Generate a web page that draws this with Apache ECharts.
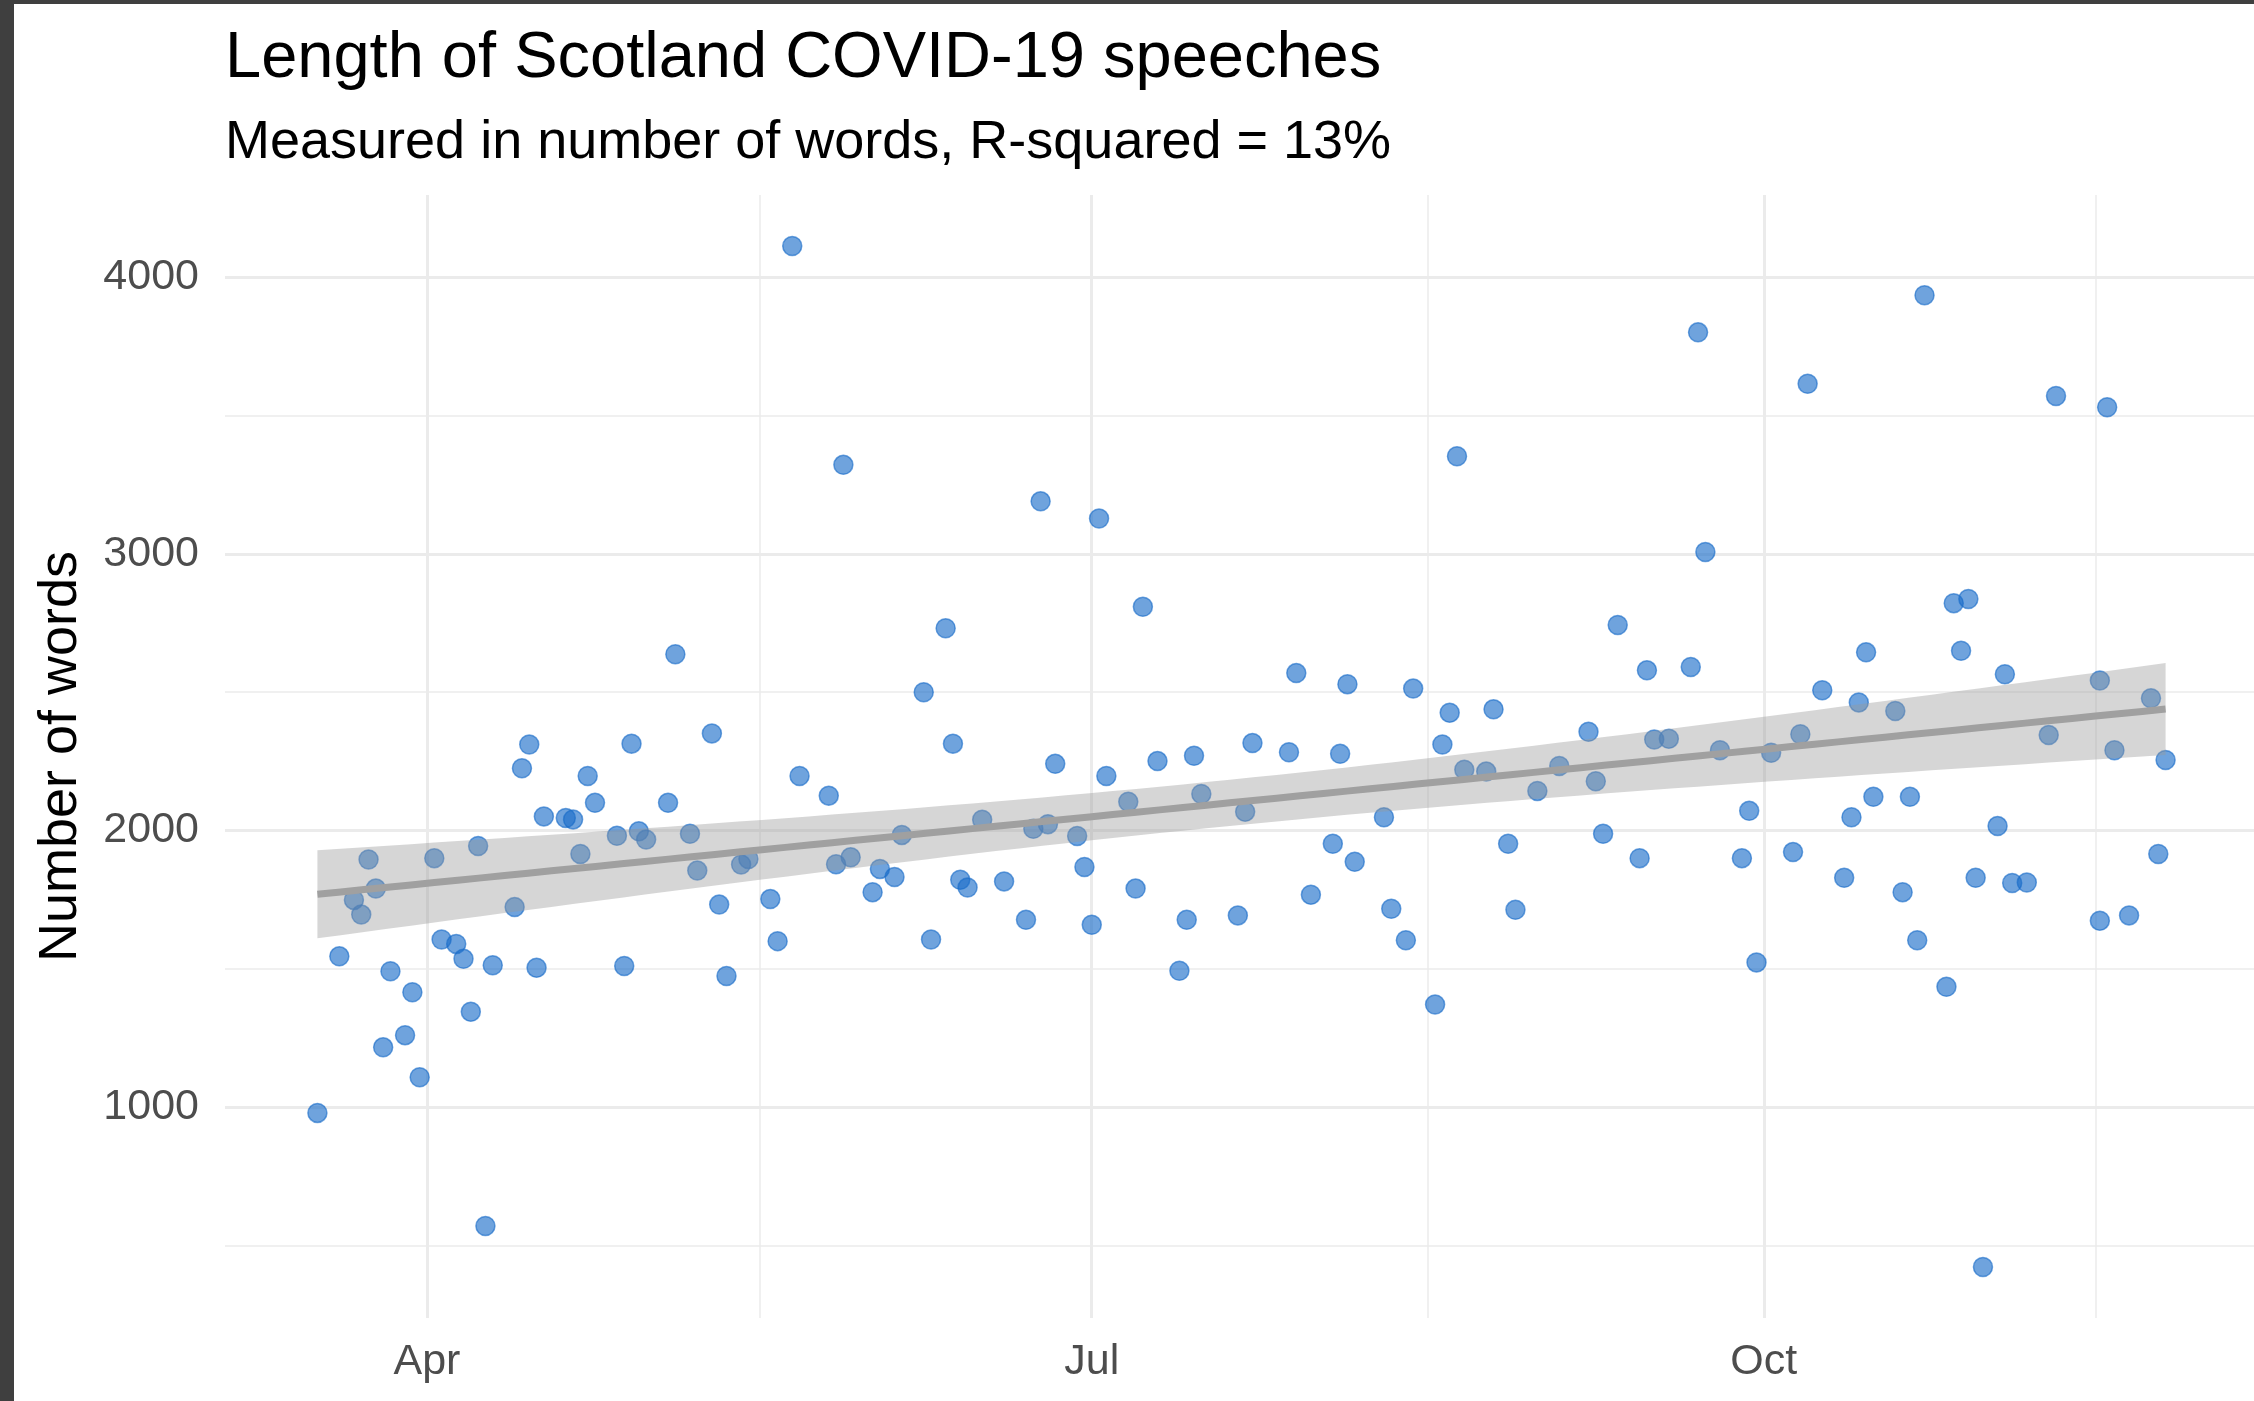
<!DOCTYPE html>
<html>
<head>
<meta charset="utf-8">
<title>Length of Scotland COVID-19 speeches</title>
<script src="https://cdn.jsdelivr.net/npm/echarts@6/dist/echarts.min.js"></script>
<style>
  html, body { margin: 0; padding: 0; width: 2254px; height: 1401px; overflow: hidden; background: #3f3f3f; }
  #chart { position: absolute; left: 14px; top: 4px; width: 2240px; height: 1397px; background: #ffffff; }
</style>
</head>
<body>
<div id="chart"></div>
<script>
// Daily COVID-19 briefings, 2020: date of each speech and its length in words
const speechDates = [
  '2020-03-17','2020-03-20','2020-03-22','2020-03-23','2020-03-24','2020-03-25','2020-03-26','2020-03-27',
  '2020-03-29','2020-03-30','2020-03-31','2020-04-02','2020-04-03','2020-04-05','2020-04-06','2020-04-07',
  '2020-04-08','2020-04-09','2020-04-10','2020-04-13','2020-04-14','2020-04-15','2020-04-16','2020-04-17',
  '2020-04-20','2020-04-21','2020-04-22','2020-04-23','2020-04-24','2020-04-27','2020-04-28','2020-04-29',
  '2020-04-30','2020-05-01','2020-05-04','2020-05-05','2020-05-07','2020-05-08','2020-05-10','2020-05-11',
  '2020-05-12','2020-05-14','2020-05-15','2020-05-18','2020-05-19','2020-05-21','2020-05-22','2020-05-26',
  '2020-05-27','2020-05-28','2020-05-29','2020-06-01','2020-06-02','2020-06-04','2020-06-05','2020-06-08',
  '2020-06-09','2020-06-11','2020-06-12','2020-06-13','2020-06-14','2020-06-16','2020-06-19','2020-06-22',
  '2020-06-23','2020-06-24','2020-06-25','2020-06-26','2020-06-29','2020-06-30','2020-07-01','2020-07-02',
  '2020-07-03','2020-07-06','2020-07-07','2020-07-08','2020-07-10','2020-07-13','2020-07-14','2020-07-15',
  '2020-07-16','2020-07-21','2020-07-22','2020-07-23','2020-07-28','2020-07-29','2020-07-31','2020-08-03',
  '2020-08-04','2020-08-05','2020-08-06','2020-08-10','2020-08-11','2020-08-13','2020-08-14','2020-08-17',
  '2020-08-18','2020-08-19','2020-08-20','2020-08-21','2020-08-24','2020-08-25','2020-08-27','2020-08-28',
  '2020-08-31','2020-09-03','2020-09-07','2020-09-08','2020-09-09','2020-09-11','2020-09-14','2020-09-15',
  '2020-09-16','2020-09-18','2020-09-21','2020-09-22','2020-09-23','2020-09-25','2020-09-28','2020-09-29',
  '2020-09-30','2020-10-02','2020-10-05','2020-10-06','2020-10-07','2020-10-09','2020-10-12','2020-10-13',
  '2020-10-14','2020-10-15','2020-10-16','2020-10-19','2020-10-20','2020-10-21','2020-10-22','2020-10-23',
  '2020-10-26','2020-10-27','2020-10-28','2020-10-29','2020-10-30','2020-10-31','2020-11-02','2020-11-03',
  '2020-11-04','2020-11-06','2020-11-09','2020-11-10','2020-11-16','2020-11-16','2020-11-17','2020-11-18',
  '2020-11-20','2020-11-23','2020-11-24','2020-11-25'
];
const wordCounts = [
  979, 1545, 1749, 1696, 1895, 1790, 1216, 1491,
  1260, 1415, 1108, 1900, 1606, 1590, 1536, 1345,
  1944, 570, 1513, 1723, 2225, 2311, 1504, 2051,
  2045, 2040, 1915, 2197, 2100, 1981, 1510, 2314,
  1997, 1967, 2100, 2637, 1988, 1855, 2351, 1732,
  1474, 1877, 1897, 1752, 1600, 4113, 2197, 2126,
  1878, 3322, 1903, 1777, 1861, 1832, 1984, 2500,
  1606, 2731, 2314, 1822, 1794, 2039, 1816, 1677,
  2006, 3190, 2023, 2241, 1980, 1868, 1659, 3128,
  2197, 2104, 1790, 2809, 2251, 1493, 1677, 2270,
  2132, 1693, 2068, 2316, 2283, 2569, 1768, 1952,
  2277, 2529, 1887, 2048, 1717, 1603, 2513, 1371,
  2311, 2426, 3353, 2220, 2213, 2438, 1952, 1713,
  2143, 2233, 2357, 2178, 1988, 2743, 1900, 2579,
  2329, 2332, 2591, 3801, 3007, 2290, 1900, 2071,
  1523, 2281, 1922, 2348, 3615, 2507, 1829, 2048,
  2463, 2644, 2122, 2432, 1777, 2122, 1603, 3935,
  1435, 2822, 2650, 2837, 1829, 422, 2016, 2565,
  1810, 1812, 2345, 3571, 2542, 1674, 3530, 2290,
  1693, 2478, 1915, 2255
];

// Axis breaks and their labels
const xMajorBreaks = ['2020-04-01', '2020-07-01', '2020-10-01'];
const xBreakLabels = ['Apr', 'Jul', 'Oct'];
const yMajorBreaks = [1000, 2000, 3000, 4000];

const DAY = 86400000;
const FONT = "'Liberation Sans', Arial, Helvetica, sans-serif";

function parseDay(s) {
  const p = s.split('-').map(Number);
  return Date.UTC(p[0], p[1] - 1, p[2]);
}

const times = speechDates.map(parseDay);
const points = times.map((t, i) => [t, wordCounts[i]]);

// Axis limits: data range widened by 5% on each side
function expand(lo, hi) {
  const pad = (hi - lo) * 0.05;
  return [lo - pad, hi + pad];
}
const tMin = Math.min(...times), tMax = Math.max(...times);
const [xLo, xHi] = expand(tMin, tMax);
const [yLo, yHi] = expand(Math.min(...wordCounts), Math.max(...wordCounts));

// Minor breaks sit halfway between major breaks (extended by one step at each end)
function minorBreaks(major, lo, hi) {
  const step = major[1] - major[0];
  const ext = [major[0] - step, ...major, major[major.length - 1] + step];
  const out = [];
  for (let i = 0; i < ext.length - 1; i++) {
    const m = (ext[i] + ext[i + 1]) / 2;
    if (m >= lo && m <= hi) out.push(m);
  }
  return out;
}
const xMajorTs = xMajorBreaks.map(parseDay);
const xMinorTs = minorBreaks(xMajorTs, xLo, xHi);
const yMinorBreaks = minorBreaks(yMajorBreaks, yLo, yHi);

// Ordinary least squares fit with a 95% confidence band
const n = points.length;
const xs = times.map(t => (t - tMin) / DAY);
const ys = wordCounts;
const xbar = xs.reduce((a, b) => a + b, 0) / n;
const ybar = ys.reduce((a, b) => a + b, 0) / n;
let sxx = 0, sxy = 0;
for (let i = 0; i < n; i++) { sxx += (xs[i] - xbar) ** 2; sxy += (xs[i] - xbar) * (ys[i] - ybar); }
const slope = sxy / sxx;
const intercept = ybar - slope * xbar;
let sse = 0;
for (let i = 0; i < n; i++) sse += (ys[i] - intercept - slope * xs[i]) ** 2;
const sigma = Math.sqrt(sse / (n - 2));
const df = n - 2, z = 1.959964;
const tq = z + (z ** 3 + z) / (4 * df) + (5 * z ** 5 + 16 * z ** 3 + 3 * z) / (96 * df * df);

const fitLine = [], bandLower = [], bandUpper = [];
const STEPS = 80;
const xSpan = (tMax - tMin) / DAY;
for (let k = 0; k < STEPS; k++) {
  const x = xSpan * k / (STEPS - 1);
  const t = tMin + x * DAY;
  const yhat = intercept + slope * x;
  const half = tq * sigma * Math.sqrt(1 / n + (x - xbar) ** 2 / sxx);
  fitLine.push([t, yhat]);
  bandLower.push([t, yhat - half]);
  bandUpper.push([t, yhat + half]);
}

// Confidence band drawn as one polygon through the axis scales
function renderBand(params, api) {
  if (params.dataIndex !== 0) return null;
  const pts = bandUpper.map(p => api.coord(p))
    .concat(bandLower.slice().reverse().map(p => api.coord(p)));
  return {
    type: 'polygon',
    shape: { points: pts },
    style: { fill: 'rgba(153,153,153,0.4)', stroke: null },
    silent: true
  };
}

// Panel grid lines
const GRID_COLOR = '#ebebeb';
const gridLines = [
  ...yMajorBreaks.map(v => ({ yAxis: v, lineStyle: { width: 3 } })),
  ...yMinorBreaks.map(v => ({ yAxis: v, lineStyle: { width: 1.5 } })),
  ...xMajorTs.map(v => ({ xAxis: v, lineStyle: { width: 3 } })),
  ...xMinorTs.map(v => ({ xAxis: v, lineStyle: { width: 1.5 } }))
];

const chart = echarts.init(document.getElementById('chart'), null, { renderer: 'canvas' });
chart.setOption({
  animation: false,
  backgroundColor: '#ffffff',
  title: [
    {
      text: 'Length of Scotland COVID-19 speeches',
      left: 211, top: 23,
      padding: 0,
      textStyle: { fontFamily: FONT, fontSize: 65, fontWeight: 'normal', color: '#000000', lineHeight: 65 }
    },
    {
      text: 'Measured in number of words, R-squared = 13%',
      left: 211, top: 112,
      padding: 0,
      textStyle: { fontFamily: FONT, fontSize: 54, fontWeight: 'normal', color: '#000000', lineHeight: 54 }
    }
  ],
  grid: {
    left: 211, right: -4, top: 191, bottom: 83,
    containLabel: false,
    outerBoundsMode: 'none'
  },
  xAxis: {
    type: 'value',
    min: xLo, max: xHi,
    scale: true,
    axisLine: { show: false },
    axisTick: { show: false },
    splitLine: { show: false },
    axisLabel: {
      customValues: xMajorTs,
      hideOverlap: false,
      margin: 23,
      fontFamily: FONT, fontSize: 43, color: '#4d4d4d',
      formatter: v => {
        const i = xMajorTs.indexOf(v);
        return i >= 0 ? xBreakLabels[i] : '';
      }
    }
  },
  yAxis: {
    type: 'value',
    min: yLo, max: yHi,
    scale: true,
    name: 'Number of words',
    nameLocation: 'middle',
    nameRotate: 90,
    nameGap: 137,
    nameTextStyle: { fontFamily: FONT, fontSize: 54, color: '#000000' },
    axisLine: { show: false },
    axisTick: { show: false },
    splitLine: { show: false },
    axisLabel: {
      customValues: yMajorBreaks,
      margin: 26,
      fontFamily: FONT, fontSize: 43, color: '#4d4d4d',
      formatter: v => String(v)
    }
  },
  series: [
    {
      name: 'grid',
      type: 'line',
      data: [],
      silent: true,
      z: 0,
      markLine: {
        silent: true,
        symbol: ['none', 'none'],
        label: { show: false },
        emphasis: { disabled: true },
        animation: false,
        z: 0,
        lineStyle: { color: GRID_COLOR, type: 'solid', opacity: 1 },
        data: gridLines
      }
    },
    {
      name: 'speeches',
      type: 'scatter',
      data: points,
      symbol: 'circle',
      symbolSize: 19,
      z: 2,
      itemStyle: {
        color: 'rgba(24,108,200,0.78)',
        borderColor: 'rgba(24,108,200,0.78)',
        borderWidth: 1.5
      },
      emphasis: { disabled: true },
      silent: true
    },
    {
      name: 'ci-band',
      type: 'custom',
      data: [bandUpper[0]],
      renderItem: renderBand,
      silent: true,
      z: 3
    },
    {
      name: 'fit',
      type: 'line',
      data: fitLine,
      symbol: 'none',
      lineStyle: { color: '#a0a0a0', width: 7 },
      silent: true,
      z: 4
    }
  ]
});
</script>
</body>
</html>
